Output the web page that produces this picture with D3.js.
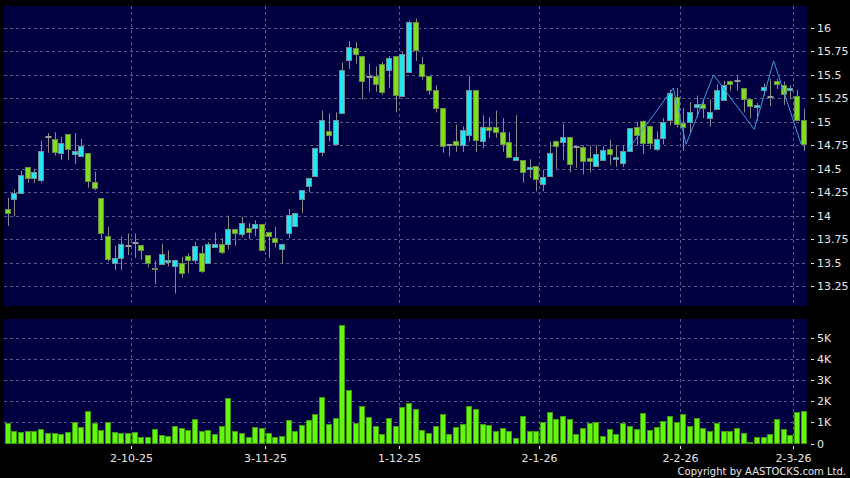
<!DOCTYPE html>
<html>
<head>
<meta charset="utf-8">
<script src="https://cdn.jsdelivr.net/npm/d3@7"></script>
<style>
html,body{margin:0;padding:0;background:#000;}
svg{display:block;}
</style>
</head>
<body>
<div id="chart"></div>
<script>
// ---- DATA ----
const opens = [14.07,14.18,14.24,14.52,14.40,14.38,14.84,14.82,14.67,14.87,
14.66,14.64,14.67,14.36,14.19,13.78,13.50,13.55,13.68,13.71,
13.69,13.58,13.44,13.48,13.51,13.46,13.49,13.57,13.53,13.60,
13.50,13.67,13.70,13.70,13.86,13.80,13.87,13.87,13.91,13.83,
13.76,13.64,13.81,13.89,14.18,14.32,14.42,14.68,14.90,14.76,
15.09,15.66,15.79,15.70,15.48,15.49,15.62,15.55,15.70,15.27,
15.53,16.06,15.62,15.49,15.34,15.15,14.75,14.80,14.75,14.86,
15.34,14.80,14.94,14.94,14.89,14.78,14.59,14.59,14.50,14.53,
14.34,14.42,14.80,14.79,14.84,14.73,14.73,14.61,14.53,14.59,
14.71,14.60,14.56,14.69,14.94,15.01,14.96,14.71,14.83,15.02,
15.26,14.99,15.00,15.16,15.19,15.04,15.14,15.23,15.44,15.44,
15.36,15.24,15.16,15.34,15.26,15.44,15.39,15.34,15.28,15.02];
const highs = [14.19,14.28,14.48,14.52,14.50,14.80,14.88,14.89,14.84,14.87,
14.88,14.82,14.67,14.47,14.19,13.88,13.68,13.78,13.81,13.81,
13.69,13.58,13.52,13.70,13.63,13.53,13.56,13.60,13.72,13.68,
13.72,13.82,13.76,14.00,13.86,13.99,13.92,13.95,13.91,13.83,
13.88,13.70,14.07,14.03,14.27,14.40,14.72,15.12,15.09,15.10,
15.63,15.86,15.85,15.70,15.62,15.59,15.64,15.70,15.70,15.74,
16.08,16.10,15.69,15.49,15.39,15.15,14.75,14.97,14.95,15.49,
15.34,15.07,15.05,15.12,15.04,14.89,15.07,14.59,14.60,14.53,
14.49,14.79,14.80,14.98,14.84,14.73,14.75,14.75,14.75,14.74,
14.81,14.75,14.75,14.93,15.00,15.01,14.96,14.90,15.04,15.34,
15.36,15.15,15.21,15.28,15.24,15.24,15.40,15.44,15.44,15.49,
15.36,15.24,15.20,15.41,15.46,15.46,15.43,15.39,15.34,15.14];
const lows = [13.89,13.99,14.24,14.35,14.35,14.35,14.67,14.64,14.59,14.59,
14.55,14.64,14.30,14.27,13.74,13.51,13.42,13.42,13.58,13.55,
13.53,13.45,13.27,13.48,13.46,13.17,13.34,13.39,13.49,13.39,
13.50,13.66,13.59,13.64,13.68,13.77,13.75,13.78,13.63,13.55,
13.66,13.49,13.76,13.89,14.03,14.25,14.42,14.63,14.79,14.76,
15.09,15.56,15.62,15.24,15.32,15.32,15.29,15.36,15.10,15.27,
15.53,15.65,15.45,15.29,15.10,14.67,14.63,14.68,14.68,14.79,
14.68,14.72,14.83,14.83,14.68,14.63,14.58,14.35,14.40,14.26,
14.26,14.42,14.50,14.59,14.46,14.51,14.44,14.46,14.53,14.59,
14.54,14.52,14.52,14.69,14.75,14.66,14.71,14.69,14.76,14.96,
14.94,14.69,14.89,15.05,15.04,14.95,15.14,15.23,15.33,15.33,
15.10,15.04,15.01,15.28,15.17,15.35,15.18,15.24,15.02,14.69];
const closes = [14.03,14.24,14.43,14.40,14.47,14.69,14.84,14.68,14.77,14.71,
14.69,14.74,14.37,14.30,13.81,13.54,13.55,13.70,13.68,13.71,
13.63,13.50,13.43,13.59,13.53,13.53,13.39,13.53,13.68,13.41,
13.70,13.70,13.61,13.86,13.81,13.92,13.83,13.91,13.63,13.78,
13.72,13.70,14.01,14.03,14.27,14.40,14.72,15.02,14.86,15.02,
15.55,15.80,15.72,15.44,15.48,15.40,15.32,15.68,15.29,15.72,
16.06,15.77,15.49,15.34,15.15,14.74,14.75,14.75,14.91,15.34,
14.81,14.94,14.91,14.89,14.76,14.63,14.63,14.46,14.52,14.39,
14.41,14.67,14.74,14.84,14.55,14.73,14.58,14.58,14.66,14.70,
14.66,14.62,14.69,14.93,14.86,14.77,14.77,14.82,15.00,15.31,
14.98,14.94,15.11,15.19,15.15,15.11,15.34,15.39,15.40,15.44,
15.24,15.17,15.18,15.37,15.26,15.40,15.30,15.36,15.02,14.76];
// volume in thousands
const volumes = [0.95,0.57,0.54,0.57,0.59,0.68,0.49,0.51,0.43,0.55,
1.00,0.76,1.53,0.98,0.62,1.01,0.54,0.52,0.51,0.55,
0.30,0.32,0.68,0.41,0.36,0.82,0.73,0.66,1.16,0.60,
0.63,0.47,0.84,2.14,0.60,0.52,0.32,0.79,0.73,0.49,
0.32,0.36,1.12,0.57,0.87,1.11,1.38,2.18,0.93,1.22,
5.62,2.53,0.95,1.76,1.23,0.82,0.44,1.22,0.82,1.72,
1.91,1.61,0.66,0.52,0.84,1.39,0.44,0.76,0.93,1.77,
1.61,0.93,0.89,0.60,0.73,0.59,0.25,1.30,0.57,0.57,
1.04,1.49,1.17,1.30,1.14,0.44,0.73,0.98,1.01,0.35,
0.70,0.44,0.95,0.85,0.70,1.46,0.63,0.76,1.06,1.30,
1.00,1.39,0.82,1.19,0.73,0.60,0.95,0.60,0.57,0.73,
0.51,0.09,0.30,0.30,0.44,1.16,0.70,0.40,1.49,1.52];
// zigzag overlay: [candle index position, price]
const zigIdx = [92.6, 99.5, 101.4, 105.5, 111.6, 114.5, 118.6];
const zigVal = [14.69, 15.36, 14.76, 15.50, 14.92, 15.65, 14.76];
const priceTicks = [13.25,13.5,13.75,14,14.25,14.5,14.75,15,15.25,15.5,15.75,16];
const priceTickLabels = ["13.25","13.5","13.75","14","14.25","14.5","14.75","15","15.25","15.5","15.75","16"];
const volTicks = [0,1,2,3,4,5];
const volTickLabels = ["0","1K","2K","3K","4K","5K"];
const dateIdx = [18,38,58,79,100,117];
const dateLabels = ["2-10-25","3-11-25","1-12-25","2-1-26","2-2-26","2-3-26"];

// ---- LAYOUT ----
const W = 850, H = 478;
const P = {left:4, right:807, top:6, bottom:306};
const V = {top:319, bottom:443.5};
const N = closes.length;

const svg = d3.select("#chart").append("svg").attr("width",W).attr("height",H);
svg.append("rect").attr("width",W).attr("height",H).attr("fill","#000");

const x = d3.scaleLinear().domain([-0.5, N-0.5]).range([4.35, 807.15]);
const y = d3.scaleLinear().domain([13.037, 16.2345]).range([P.bottom, P.top]);
const yv = d3.scaleLinear().domain([0, 5.888]).range([V.bottom, V.top]);

const bg = "#000040";
const gridCol = "#5a5a8c";
svg.append("rect").attr("x",P.left).attr("y",P.top).attr("width",P.right-P.left).attr("height",P.bottom-P.top).attr("fill",bg);
svg.append("rect").attr("x",P.left).attr("y",V.top).attr("width",P.right-P.left).attr("height",V.bottom-V.top).attr("fill",bg);

const gx = i => Math.round(x(i)+3)+0.5;

// grid top
const g1 = svg.append("g").attr("stroke",gridCol).attr("stroke-dasharray","3,3").attr("stroke-width",1);
priceTicks.forEach(t=>{
  const yy = Math.round(y(t))+0.5;
  g1.append("line").attr("x1",P.left).attr("x2",P.right).attr("y1",yy).attr("y2",yy);
});
dateIdx.forEach(i=>{
  g1.append("line").attr("x1",gx(i)).attr("x2",gx(i)).attr("y1",P.top).attr("y2",P.bottom);
});
// grid bottom
const g2 = svg.append("g").attr("stroke",gridCol).attr("stroke-dasharray","3,3").attr("stroke-width",1);
volTicks.slice(1).forEach(t=>{
  const yy = Math.round(yv(t))+0.5;
  g2.append("line").attr("x1",P.left).attr("x2",P.right).attr("y1",yy).attr("y2",yy);
});
dateIdx.forEach(i=>{
  g2.append("line").attr("x1",gx(i)).attr("x2",gx(i)).attr("y1",V.top).attr("y2",V.bottom);
});

// candles
const cg = svg.append("g");
for(let i=0;i<N;i++){
  const cx = Math.round(x(i))+0.5;
  const o=opens[i], c=closes[i], h=highs[i], l=lows[i];
  cg.append("line").attr("x1",cx).attr("x2",cx).attr("y1",y(h)).attr("y2",y(l))
    .attr("stroke","#8a8a8a").attr("stroke-width",1);
  if(o===c){
    cg.append("line").attr("x1",cx-3).attr("x2",cx+3).attr("y1",Math.round(y(o))).attr("y2",Math.round(y(o)))
      .attr("stroke","#9a9a9a").attr("stroke-width",2);
  } else {
    const up = c>o;
    const top = Math.round(y(Math.max(o,c)))+0.5;
    const bot = Math.round(y(Math.min(o,c)))+0.5;
    cg.append("rect").attr("x",cx-3).attr("y",top).attr("width",5).attr("height",Math.max(1,bot-top))
      .attr("fill", up ? "#22e6f2" : "#7fdf1f")
      .attr("stroke", up ? "#6e8f9c" : "#6a8a4a").attr("stroke-width",1);
  }
}

// zigzag line
const zig = zigIdx.map((d,i)=>[x(d), y(zigVal[i])]);
svg.append("path").attr("d", d3.line()(zig)).attr("fill","none").attr("stroke","#3a9be0").attr("stroke-width",1);

// volume bars
const vg = svg.append("g");
volumes.forEach((v,i)=>{
  const cx = Math.round(x(i))+0.5;
  const top = Math.round(yv(v))+0.5;
  vg.append("rect").attr("x",cx-3).attr("y",top).attr("width",5).attr("height",Math.max(0,V.bottom-top))
    .attr("fill","#66f50f").attr("stroke","#3c9a10").attr("stroke-width",1);
});

// axes text
const txtCol = "#e6e6e6";
const font = "DejaVu Sans, Verdana, sans-serif";
priceTicks.forEach((t,k)=>{
  const yy = Math.round(y(t))+0.5;
  svg.append("line").attr("x1",811).attr("x2",814).attr("y1",yy).attr("y2",yy).attr("stroke",txtCol);
  svg.append("text").attr("x",817).attr("y",yy).attr("dy","0.36em").attr("fill",txtCol)
    .attr("font-family",font).attr("font-size",11).text(priceTickLabels[k]);
});
volTicks.forEach((t,k)=>{
  const yy = Math.round(yv(t))+0.5;
  svg.append("line").attr("x1",811).attr("x2",814).attr("y1",yy).attr("y2",yy).attr("stroke",txtCol);
  svg.append("text").attr("x",817).attr("y",yy).attr("dy","0.36em").attr("fill",txtCol)
    .attr("font-family",font).attr("font-size",11).text(volTickLabels[k]);
});
dateIdx.forEach((i,k)=>{
  const xx = gx(i);
  svg.append("line").attr("x1",xx).attr("x2",xx).attr("y1",446).attr("y2",449).attr("stroke",txtCol);
  svg.append("text").attr("x",xx).attr("y",462).attr("text-anchor","middle").attr("fill",txtCol)
    .attr("font-family",font).attr("font-size",11).text(dateLabels[k]);
});
svg.append("text").attr("x",846).attr("y",475).attr("text-anchor","end").attr("fill",txtCol)
  .attr("font-family",font).attr("font-size",10).text("Copyright by AASTOCKS.com Ltd.");
</script>
</body>
</html>
